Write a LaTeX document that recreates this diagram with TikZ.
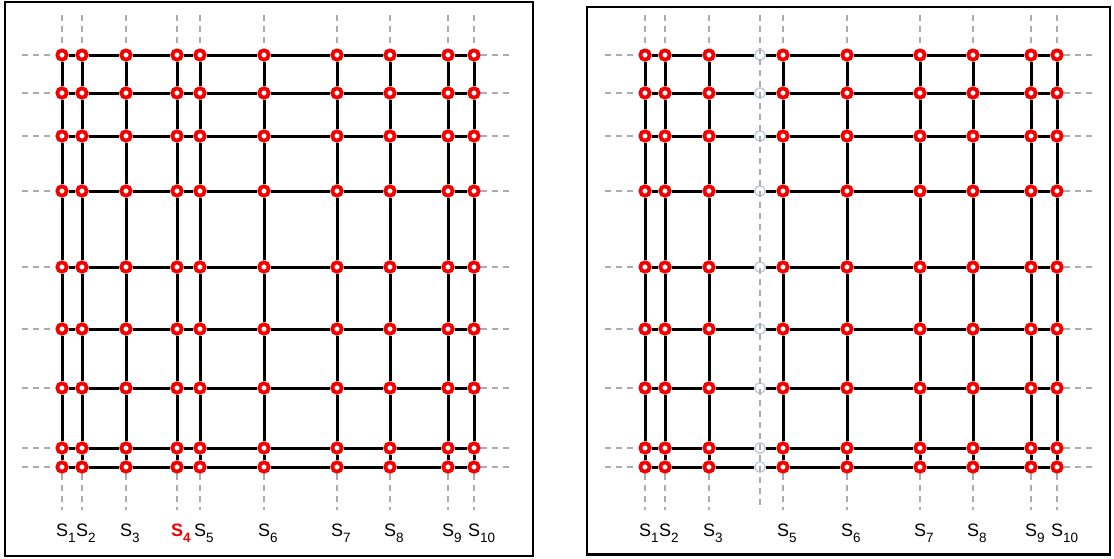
\documentclass[tikz,border=0pt]{standalone}
\usepackage{fontspec}
\setmainfont{Liberation Sans}
\usepackage{xcolor}
\usepackage{tikz}
\definecolor{nodered}{RGB}{245,0,0}
\definecolor{guidegray}{RGB}{172,172,172}
\definecolor{ghostblue}{RGB}{186,204,214}

\begin{document}
\begin{tikzpicture}[
      x=1pt, y=-1pt,
      frame/.style={draw, line width=2.6pt},
      grid/.style={line width=3pt, black},
      guide/.style={line width=1.6pt, guidegray, dash pattern=on 6pt off 5pt},
      pt/.style={circle, draw=nodered, fill=white, line width=3.8pt,
        minimum size=9.4pt, inner sep=0pt},
      ghost/.style={circle, draw=ghostblue, fill=white, line width=1.4pt,
        minimum size=10.5pt, inner sep=0pt},
      slab/.style={font=\fontsize{18}{18}\selectfont, anchor=base west,
        inner sep=0pt}
    ]
    \newcommand{\idx}[1]{\raisebox{-6pt}{\fontsize{13.5}{13.5}\selectfont #1}}
    \useasboundingbox (0,0) rectangle (1114,558);

    \draw[frame] (5,2) rectangle (533,556);
    \draw[frame] (587,7) rectangle (1110,554.5);

    % grid points, guide ends and labels of both panels
    \foreach \p/\off/\gap/\hot in {L/0/0/4,R/583/4/0} {
      \foreach \x [count=\i] in {62,82,126,177,200,264,337,390,448,474} {
        \coordinate (\p-top-\i) at (\x+\off,15);
        \coordinate (\p-bot-\i) at (\x+\off,510);
        \foreach \y [count=\j] in {55,93,136,191,267,329,388,448,467} {
          \ifnum\i=\gap
            \node[ghost] (\p-\i-\j) at (\x+\off,\y) {};
          \else
            \node[pt] (\p-\i-\j) at (\x+\off,\y) {};
          \fi
        }
        \ifnum\i=\gap\else
          \ifnum\i=\hot
            \node[slab, text=nodered, font=\fontsize{18}{18}\selectfont\bfseries]
              (\p-lab-\i) at (\x+\off-6,536) {S\idx{\i}};
          \else
            \node[slab] (\p-lab-\i) at (\x+\off-6,536) {S\idx{\i}};
          \fi
        \fi
      }
      \foreach \y [count=\j] in {55,93,136,191,267,329,388,448,467} {
        \coordinate (\p-lft-\j) at (22+\off,\y);
        \coordinate (\p-rgt-\j) at (513+\off,\y);
      }
    }

    % connectors
    \foreach \p/\gap in {L/0,R/4} {
      \foreach \i [count=\k from 2] in {1,...,9} {
        \foreach \j in {1,...,9}
          \draw[grid] (\p-\i-\j) -- (\p-\k-\j);
      }
      \foreach \i in {1,...,10} {
        \ifnum\i=\gap
          \draw[guide] (\p-top-\i) -- (\p-bot-\i);
        \else
          \foreach \j [count=\k from 2] in {1,...,8}
            \draw[grid] (\p-\i-\j) -- (\p-\i-\k);
          \draw[guide] (\p-top-\i) -- (\p-\i-1);
          \draw[guide] (\p-\i-9) -- (\p-bot-\i);
        \fi
      }
      \foreach \j in {1,...,9} {
        \draw[guide] (\p-lft-\j) -- (\p-1-\j);
        \draw[guide] (\p-10-\j) -- (\p-rgt-\j);
      }
    }
  \end{tikzpicture}
\end{document}
